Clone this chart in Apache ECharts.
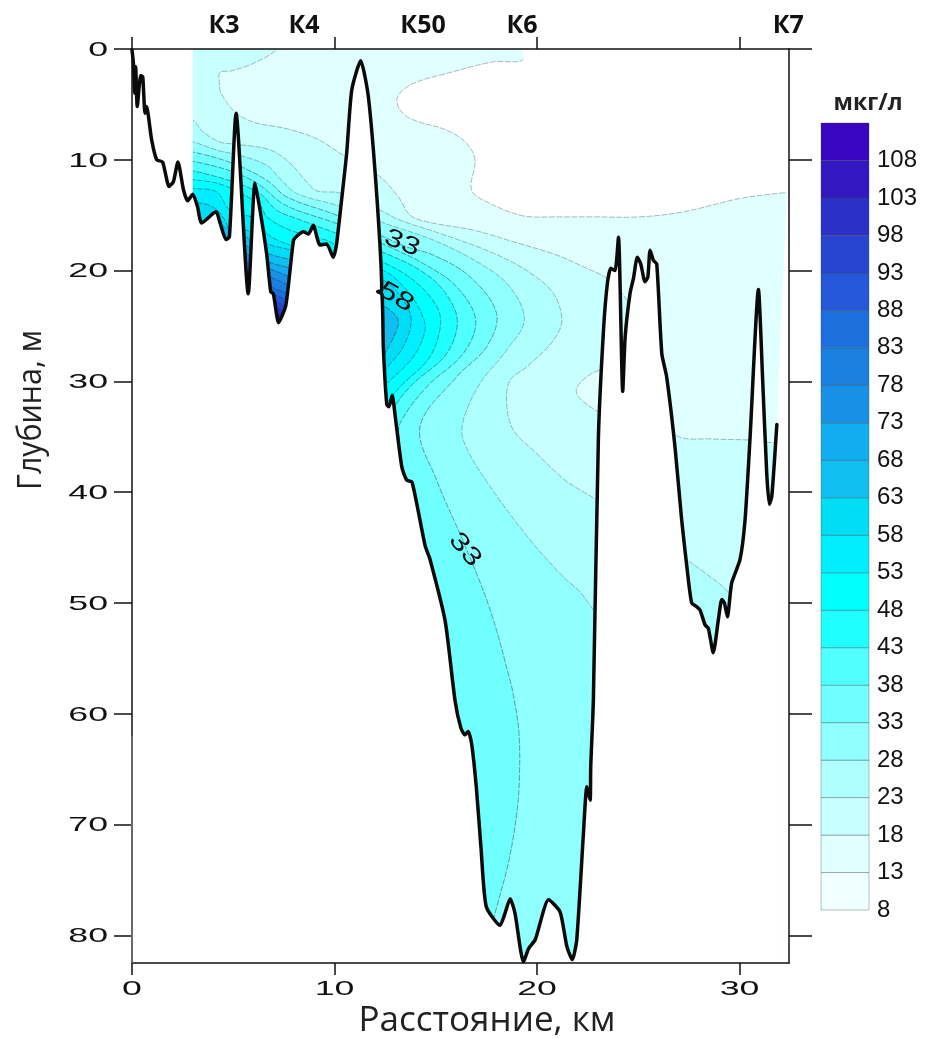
<!DOCTYPE html>
<html><head><meta charset="utf-8">
<style>html,body{margin:0;padding:0;background:#fff}#c{width:925px;height:1039px}</style>
<script src="https://cdn.jsdelivr.net/npm/echarts@6/dist/echarts.min.js"></script>
</head><body><div id="c"></div>
<script>
// ---------- axes / labels ----------
const xTicks = [0, 10, 20, 30];
const yTicks = [0, 10, 20, 30, 40, 50, 60, 70, 80];
const stationNames = ['К3', 'К4', 'К50', 'К6', 'К7'];
const stationKm = [4.54, 8.49, 14.37, 19.26, 32.4];
const legendLevels = ['8','13','18','23','28','33','38','43','48','53','58','63','68','73','78','83','88','93','98','103','108','113'];
const legendColors = ['#F0FFFF','#E0FFFF','#C8FFFF','#AFFFFF','#90FFFF','#70FFFF','#50FFFF','#20FFFF','#00FFFF','#00EEFF','#00DDF5','#10BFF0','#12ADF0','#1890E5','#1A80E0','#1C70DD','#2458D8','#2845D0','#2C30C8','#3318C0','#3A05BF'];
const contourLabels = [[13.33, 17.53, '33', 22], [13.04, 22.4, '58', 30], [16.44, 45.2, '33', 50]];

// ---------- seabed profile [km, m] ----------
const seabed = [[0,0.1],[0.07,1.3],[0.13,4.0],[0.18,1.6],[0.26,5.2],[0.43,2.4],[0.53,2.5],[0.64,5.8],[0.72,5.2],[0.97,8.2],[1.22,10.0],[1.51,10.2],[1.83,12.4],[2.04,12.0],[2.27,10.2],[2.54,12.7],[2.75,13.7],[3.0,13.1],[3.23,14.2],[3.44,15.7],[4.15,14.7],[4.35,15.7],[4.64,17.2],[4.81,16.95],[5.14,5.8],[5.74,22.1],[6.07,12.1],[6.29,14.2],[6.65,18.5],[6.85,21.9],[6.98,22.1],[7.24,24.7],[7.6,23.1],[7.97,17.3],[8.13,16.9],[8.46,16.5],[8.71,16.7],[8.95,15.9],[9.28,17.7],[9.61,17.6],[9.94,18.8],[10.1,17.6],[10.35,13.6],[10.6,9.4],[10.85,3.7],[11.29,1.07],[11.67,4.3],[12.1,13.6],[12.33,21.77],[12.13,21.9],[12.34,22.1],[12.41,26.9],[12.58,32.1],[12.69,32.3],[12.85,31.25],[12.98,32.9],[13.32,37.7],[13.56,38.9],[13.83,39.1],[14.47,44.8],[14.72,46.1],[15.46,51.6],[15.95,58.8],[16.24,61.3],[16.44,61.9],[16.6,61.6],[16.77,62.7],[17.0,66.6],[17.24,72.3],[17.49,77.4],[18.17,79.1],[18.42,78.0],[18.67,76.7],[18.91,78.0],[19.33,82.4],[19.58,81.2],[19.91,80.4],[20.57,76.8],[21.14,77.9],[21.47,81.0],[21.74,82.2],[21.96,80.4],[22.29,70.8],[22.46,66.6],[22.62,67.8],[22.65,64.8],[22.78,58.8],[23.03,35.0],[23.28,25.4],[23.47,21.2],[23.64,19.8],[23.85,20.0],[24.02,17.0],[24.23,30.9],[24.35,26.0],[24.59,22.07],[24.76,20.7],[24.95,18.8],[25.12,19.4],[25.33,21.0],[25.47,20.6],[25.58,18.16],[25.75,19.1],[25.91,19.4],[26.16,27.5],[26.4,29.6],[26.81,35.9],[27.14,42.5],[27.47,47.9],[27.64,50.0],[27.89,50.35],[28.05,50.65],[28.3,52.0],[28.46,52.3],[28.7,54.5],[28.95,51.55],[29.12,49.7],[29.25,50.0],[29.4,51.25],[29.61,48.2],[30.02,46.1],[30.27,42.5],[30.52,35.0],[30.93,21.7],[31.14,29.9],[31.34,38.3],[31.47,41.1],[31.59,40.4],[31.84,33.9]];

// ---------- isolines [km, m] ----------
const edgeOfField = [[19.32,0.95],[17.84,1.16],[15.54,2.21],[13.89,3.11],[13.15,4.17],[13.15,5.23],[13.73,6.27],[15.54,7.33],[16.53,8.53],[16.94,10.04],[16.77,12.74],[17.68,13.94],[19.32,15.06],[20.97,15.15],[22.62,15.15],[25.09,15.15],[27.22,14.7],[30.02,13.49],[32.33,12.95]];
const contour18 = [[7.3,-1],[7.14,0.05],[5.99,1.3],[4.84,2.0],[4.35,2.1],[4.31,3.0],[4.4,4.0],[5.09,5.7],[5.99,6.6],[7.64,7.2],[9.12,8.1],[10.44,9.6],[12.16,11.4],[13.15,13.35],[13.73,15.0],[14.55,15.6],[16.85,16.35],[18.83,17.4],[20.97,18.6],[22.45,19.8],[23.44,20.7],[24.43,22.7],[25,26],[26,32],[26.86,34.86],[28.7,35.2],[30.52,35.3],[31.67,35.55],[33,35.7]];
const pocket18 = [[23.08,29.0],[22.45,29.6],[21.96,30.6],[22.04,31.4],[23.03,32.75],[23.6,33],[23.6,29]];
const contour23 = [[3,6.43],[3.52,7.5],[4.35,8.4],[5.17,8.6],[6.81,9.1],[7.8,10.3],[8.63,12.0],[9.12,12.8],[10.27,13.0],[12.25,14.55],[13.23,15.45],[15.21,16.65],[17.68,18.3],[19.49,20.0],[20.81,22.07],[21.22,24.5],[20.81,26.3],[19.49,28.7],[18.67,29.9],[18.5,32.0],[18.83,34.4],[19.98,36.5],[21.3,38.8],[22.12,39.8],[22.91,40.66],[27,45.6],[27.47,46.2],[28.45,47.5],[29.45,49.0],[30,50.5]];
const contour28 = [[3,8.38],[4.18,9.13],[5.3,9.59],[6.65,10.49],[7.31,11.69],[8.13,13.04],[10.1,14.1],[12.25,15.6],[14.88,17.25],[17.18,19.36],[18.66,21.47],[19.37,24.47],[18.5,27.18],[17.18,30.19],[16.36,33.5],[16.36,35.3],[17.35,38.6],[19.65,44.3],[21.38,47.8],[22.12,49.0],[22.77,50.6],[23.5,52]];
const contour33 = [[3,9.29],[5.0,10.34],[6.65,11.84],[7.64,13.35],[10.1,15.0],[12.25,16.8],[13.56,17.86],[14.88,18.6],[16.69,20.56],[18.0,23.87],[17.51,26.88],[16.03,29.59],[14.22,34.1],[15.04,38.9],[16.44,44.8],[17.68,50.6],[18.67,57.0],[18.88,58.8],[19.11,61.8],[19.13,65.7],[19.0,69.0],[18.58,73.5],[17.93,78.0],[17.7,80]];
const contour38 = [[3,10.13],[5.0,11.09],[6.32,12.29],[7.31,13.8],[8.13,14.55],[10.1,15.75],[12.33,17.55],[14.38,19.36],[16.03,21.47],[16.97,24.47],[16.36,27.48],[14.55,30.49],[13.23,33.8],[13.0,36]];
const contour43 = [[3,11.0],[5.0,11.99],[6.32,13.05],[7.14,14.55],[8.13,15.3],[10.1,16.65],[12.33,18.3],[14.22,19.96],[15.37,21.77],[16.06,24.47],[15.54,27.48],[13.89,30.19],[13.07,32.0],[12.8,33.5]];
const contour48 = [[3,11.78],[4.51,12.29],[6.32,14.1],[6.65,15.15],[7.8,16.35],[9.61,17.26],[10.1,17.7],[12.33,19.2],[13.89,20.86],[14.96,22.97],[15.24,24.77],[14.71,27.78],[13.23,30.49],[12.9,31.24],[12.5,32]];
const contour53 = [[3,12.59],[4.18,12.9],[4.84,14.55],[6.32,15.45],[6.65,16.65],[7.8,17.7],[9.78,18.76],[12.38,19.96],[13.56,21.77],[14.3,23.87],[14.47,25.38],[13.89,27.78],[12.57,30.19],[12.3,30.5]];
const contour58 = [[3,13.8],[4.0,14.25],[4.59,15.45],[4.84,16.35],[5.66,16.35],[6.65,17.56],[7.88,18.16],[10.3,19.5],[12.41,20.86],[13.4,22.67],[13.78,24.47],[13.4,26.88],[12.49,28.99],[12.2,30]];
const contour63a = [[12.2,22.9],[12.41,23.12],[13.07,24.17],[13.12,25.08],[12.49,27.48],[12.2,28]];
const contour63b = [[4.35,16.0],[4.7,16.2],[5,16.3],[5,18],[4.35,18]];
const contour63c = [[5.2,16.8],[6.73,18.46],[7.88,19.06],[9,20]];
const contour68 = [[5.2,17.6],[6.73,19.21],[7.8,19.81],[9,21]];
const contour73 = [[5.2,18.4],[6.78,19.81],[7.8,20.57],[9,21.5]];
const contour78 = [[5.2,19.2],[6.81,20.57],[7.77,21.32],[9,22]];
const contour83 = [[5.2,20],[6.85,21.47],[7.72,22.07],[9,23]];
const contour88 = [[5.2,21],[6.9,22.07],[7.67,22.67],[9,23.5]];
const contour93 = [[5.2,21.8],[6.98,22.67],[7.64,23.27],[9,24]];
const contour98 = [[5.2,22.5],[7.06,23.27],[7.55,23.72],[9,24.5]];
const contour103 = [[5.2,23],[7.1,23.8],[7.5,24.2],[9,25]];

// closures of the filled areas run below the seabed or beyond the field, hidden by the masks
const withLeft = (c, tail) => [[2.5, c[0][1]], ...c, ...tail, [2.5, tail[tail.length - 1][1]]];
const trough = c => [...c, [9, 26], [5.2, 26]];
const lc = legendColors;
const rings = [
  { color: lc[1], faint: true, pts: [[2.5,-1],[19.32,-1],...edgeOfField,[33.5,12.8],[33.5,84],[2.5,84]] },
  { color: lc[2], faint: true, pts: [...contour18,[33,84],[2.5,84],[2.5,-1]] },
  { color: lc[1], faint: true, pts: pocket18 },
  { color: lc[3], faint: true, pts: withLeft(contour23, [[30,84]]) },
  { color: lc[4], faint: true, pts: withLeft(contour28, [[23.5,84]]) },
  { color: lc[5], pts: withLeft(contour33, [[17,84]]) },
  { color: lc[6], pts: withLeft(contour38, [[5,40]]) },
  { color: lc[7], pts: withLeft(contour43, [[5,40]]) },
  { color: lc[8], pts: withLeft(contour48, [[5,40]]) },
  { color: lc[9], pts: withLeft(contour53, [[5,40]]) },
  { color: lc[10], pts: withLeft(contour58, [[5,40]]) },
  { color: lc[11], pts: contour63a },
  { color: lc[11], pts: contour63b },
  { color: lc[11], pts: trough(contour63c) },
  { color: lc[12], pts: trough(contour68) },
  { color: lc[13], pts: trough(contour73) },
  { color: lc[14], pts: trough(contour78) },
  { color: lc[15], pts: trough(contour83) },
  { color: lc[16], pts: trough(contour88) },
  { color: lc[17], pts: trough(contour93) },
  { color: lc[18], pts: trough(contour98) },
  { color: lc[19], pts: trough(contour103) }
];
// white masks: the sea floor and everything outside the measured field
const floorMask = [[3,-1], ...seabed.filter(p => p[0] >= 3), [31.84,84], [-1,84], [-1,-1]];
const rightMask = [[32.33,-1],[34,-1],[34,84],[31.84,84],[31.84,33.9],[32.33,12.95]];
const cornerMask = [[19.32,-1],[23,-1],[23,3],[19.32,3],[19.32,0.95]];
const masks = [floorMask, rightMask, cornerMask];

const X_MAX = 32.44, Y_MAX = 82.5;
const INK = '#111';
const tickFont = '21px "Liberation Sans", Arial, sans-serif';

const chart = echarts.init(document.getElementById('c'), null, { renderer: 'canvas' });
const axisLine = { show: true, onZero: false, lineStyle: { color: INK, width: 1.5 } };
const xTick = { show: true, length: 12, customValues: xTicks, lineStyle: { color: INK, width: 1.5 } };

chart.setOption({
  animation: false,
  backgroundColor: '#fff',
  grid: [
    { left: 132, top: 49, width: 657, height: 914 },
    { left: 821, top: 123, width: 48, height: 787 }
  ],
  xAxis: [
    { type: 'value', gridIndex: 0, position: 'bottom', min: 0, max: X_MAX, z: 10, axisLine, axisTick: xTick, axisLabel: { show: false }, splitLine: { show: false } },
    { type: 'value', gridIndex: 0, position: 'top', min: 0, max: X_MAX, z: 10, axisLine, axisTick: xTick, axisLabel: { show: false }, splitLine: { show: false } },
    { type: 'value', gridIndex: 1, min: 0, max: 1, show: false }
  ],
  yAxis: [
    { type: 'value', gridIndex: 0, position: 'left', inverse: true, min: 0, max: Y_MAX, z: 10, axisLine, axisTick: { show: true, length: 18, customValues: yTicks, lineStyle: { color: INK, width: 1.5 } }, axisLabel: { show: false }, splitLine: { show: false } },
    { type: 'value', gridIndex: 0, position: 'right', inverse: true, min: 0, max: Y_MAX, z: 10, axisLine, axisTick: { show: true, length: 23, customValues: yTicks, lineStyle: { color: INK, width: 1.5 } }, axisLabel: { show: false }, splitLine: { show: false } },
    { type: 'category', gridIndex: 1, position: 'right', data: legendLevels, boundaryGap: false, axisLine: { show: false }, axisTick: { show: false }, splitLine: { show: false },
      axisLabel: { show: true, interval: 0, margin: 8, fontFamily: '"Liberation Sans", Arial, sans-serif', fontSize: 24, color: INK, formatter: v => v === '113' ? '' : v } }
  ],
  graphic: [
    { type: 'text', x: 487, y: 1021, style: { text: 'Расстояние, км', font: '35px "Open Sans", sans-serif', fill: '#222', textAlign: 'center', textVerticalAlign: 'middle' } },
    { type: 'text', x: 32, y: 410, rotation: Math.PI / 2, scaleX: 0.92, style: { text: 'Глубина, м', font: '33px "Open Sans", sans-serif', fill: '#222', textAlign: 'center', textVerticalAlign: 'middle' } },
    { type: 'text', x: 868, y: 103, style: { text: 'мкг/л', font: 'bold 23px "Open Sans", sans-serif', fill: '#222', textAlign: 'center', textVerticalAlign: 'middle' } }
  ],
  series: [
    { type: 'custom', name: 'fields', coordinateSystem: 'cartesian2d', xAxisIndex: 0, yAxisIndex: 0, clip: true, silent: true, z: 2,
      data: rings.map((r, i) => [i, 0]),
      renderItem: (p, api) => {
        const r = rings[p.dataIndex];
        return { type: 'polygon', shape: { points: r.pts.map(q => api.coord(q)), smooth: 0.35 },
          style: { fill: r.color, stroke: r.faint ? 'rgba(70,90,95,0.6)' : 'rgba(30,60,70,0.7)', lineWidth: 0.7, lineDash: [6, 1.5] } };
      } },
    { type: 'custom', name: 'masks', coordinateSystem: 'cartesian2d', xAxisIndex: 0, yAxisIndex: 0, clip: true, silent: true, z: 3,
      data: masks.map((m, i) => [i, 0]),
      renderItem: (p, api) => ({ type: 'polygon', shape: { points: masks[p.dataIndex].map(q => api.coord(q)) }, style: { fill: '#fff' } }) },
    { type: 'line', name: 'seabed', xAxisIndex: 0, yAxisIndex: 0, data: seabed, showSymbol: false, smooth: 0.2, clip: false, silent: true, z: 5,
      lineStyle: { color: '#0a0a0a', width: 3.5, join: 'round', cap: 'round' } },
    { type: 'line', name: 'left axis lower part', xAxisIndex: 0, yAxisIndex: 0, data: [[0, 62], [0, Y_MAX]], showSymbol: false, clip: false, silent: true, z: 11,
      lineStyle: { color: '#6a6a6a', width: 2 } },
    { type: 'custom', name: 'x tick labels', coordinateSystem: 'cartesian2d', xAxisIndex: 0, yAxisIndex: 0, silent: true, z: 6,
      data: xTicks.map(v => [v, Y_MAX]),
      renderItem: (p, api) => { const c = api.coord([api.value(0), Y_MAX]);
        return { type: 'text', x: c[0], y: c[1] + 26, scaleX: 1.7, style: { text: String(api.value(0)), font: tickFont, fill: INK, align: 'center', verticalAlign: 'middle' } }; } },
    { type: 'custom', name: 'y tick labels', coordinateSystem: 'cartesian2d', xAxisIndex: 0, yAxisIndex: 0, silent: true, z: 6,
      data: yTicks.map(v => [0, v]),
      renderItem: (p, api) => { const c = api.coord([0, api.value(1)]);
        return { type: 'text', x: c[0] - 24, y: c[1] + 1, scaleX: 1.7, style: { text: String(api.value(1)), font: tickFont, fill: INK, align: 'right', verticalAlign: 'middle' } }; } },
    { type: 'custom', name: 'stations', coordinateSystem: 'cartesian2d', xAxisIndex: 0, yAxisIndex: 0, silent: true, z: 6,
      data: stationKm.map(v => [v, 0]),
      renderItem: (p, api) => { const c = api.coord([api.value(0), 0]);
        return { type: 'text', x: c[0], y: c[1] - 23, style: { text: stationNames[p.dataIndex], font: 'bold 25px "Open Sans", sans-serif', fill: '#111', align: 'center', verticalAlign: 'middle' } }; } },
    { type: 'custom', name: 'contour labels', coordinateSystem: 'cartesian2d', xAxisIndex: 0, yAxisIndex: 0, silent: true, z: 6,
      data: contourLabels.map(l => [l[0], l[1]]),
      renderItem: (p, api) => { const l = contourLabels[p.dataIndex]; const c = api.coord([l[0], l[1]]);
        return { type: 'text', x: c[0], y: c[1], rotation: -l[3] * Math.PI / 180, scaleX: 1.3, style: { text: l[2], font: '25px "Liberation Sans", Arial, sans-serif', fill: '#111', align: 'center', verticalAlign: 'middle' } }; } },
    { type: 'custom', name: 'legend', coordinateSystem: 'cartesian2d', xAxisIndex: 2, yAxisIndex: 2, silent: true, z: 2,
      data: legendColors.map((c, i) => [0, i]),
      renderItem: (p, api) => { const a = api.coord([0, p.dataIndex]); const b = api.coord([1, p.dataIndex + 1]);
        return { type: 'rect', shape: { x: a[0], y: b[1], width: b[0] - a[0], height: a[1] - b[1] },
          style: { fill: legendColors[p.dataIndex], stroke: 'rgba(60,70,75,0.35)', lineWidth: 1 } }; } }
  ]
});
</script></body></html>
